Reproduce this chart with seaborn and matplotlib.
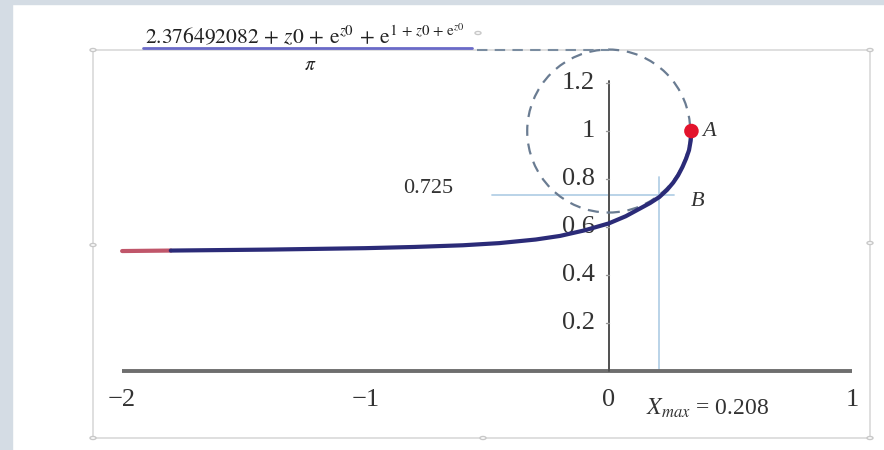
import numpy as np
import pandas as pd
import matplotlib
matplotlib.use("Agg")
import matplotlib.pyplot as plt
from matplotlib.patches import Ellipse, Rectangle, Circle
import seaborn as sns

# curve (blue part), plus the red start segment
curve_x = [-1.8, -1.6, -1.4, -1.2, -1.0, -0.8, -0.6, -0.45, -0.3, -0.2, -0.1, 0.0,
           0.07, 0.13, 0.17, 0.208, 0.24, 0.265, 0.285, 0.303, 0.318, 0.33, 0.337, 0.34]
curve_y = [0.502, 0.504, 0.506, 0.509, 0.512, 0.517, 0.524, 0.533, 0.548, 0.563, 0.586, 0.615,
           0.645, 0.678, 0.70, 0.725, 0.755, 0.785, 0.815, 0.85, 0.885, 0.92, 0.96, 1.0]
red_x = [-2.0, -1.8]
red_y = [0.5, 0.502]

point_a = (0.34, 1.0)
point_b = (0.208, 0.725)
circle_center = (0.0, 1.0)
circle_radius = 0.335

x_ticks = [-2, -1, 0, 1]
x_tick_labels = ["\u22122", "\u22121", "0", "1"]
y_ticks = [0.2, 0.4, 0.6, 0.8, 1.0, 1.2]
y_tick_labels = ["0.2", "0.4", "0.6", "0.8", "1", "1.2"]

sns.set_style("white")
plt.rcParams["font.family"] = ["Liberation Serif", "DejaVu Serif"]
plt.rcParams["mathtext.fontset"] = "stix"

fig = plt.figure(figsize=(8.84, 4.5), dpi=100)
ax = fig.add_axes([0, 0, 1, 1])
ax.set_xlim(-2.502, 1.1315)
ax.set_ylim(-0.329, 1.546)
ax.axis("off")

# page background bands
fig.patches.append(Rectangle((0, 0), 12 / 884, 1, transform=fig.transFigure,
                             color="#d4dce4", zorder=-2))
fig.patches.append(Rectangle((0, 1 - 4 / 450), 1, 4 / 450, transform=fig.transFigure,
                             color="#d4dce4", zorder=-2))
# plot frame with handles (kept under the axes content)
fig.patches.append(Rectangle((93 / 884, 1 - 438 / 450), 777 / 884, 388 / 450,
                             transform=fig.transFigure, fill=False,
                             edgecolor="#dcdcdc", lw=1.3, zorder=-1))
for hx, hy in [(93, 50), (870, 50), (93, 245), (870, 243), (93, 438), (870, 438), (483, 438), (478, 33)]:
    fig.patches.append(Circle((hx / 884, 1 - hy / 450), 3 / 884, transform=fig.transFigure,
                              facecolor="white", edgecolor="#c8c8c8", lw=1, zorder=-1))

# axes
ax.plot([-2, 1], [0, 0], color="#6e6e6e", lw=2.8, solid_capstyle="butt", zorder=3)
ax.plot([0, 0], [0, 1.21], color="#505050", lw=1.4, zorder=3)

for t, lab in zip(x_ticks, x_tick_labels):
    ax.text(t, -0.12, lab, ha="center", va="center", fontsize=19, color="#333333")
for t, lab in zip(y_ticks, y_tick_labels):
    ax.plot([-0.012, 0], [t, t], color="#999999", lw=1, zorder=3)
    ax.text(-0.056, t, lab, ha="right", va="center", fontsize=19, color="#333333")

# guide lines through B
ax.plot([point_b[0], point_b[0]], [0, 0.81], color="#b4d0e6", lw=1.3, zorder=2)
ax.plot([-0.48, 0.27], [point_b[1] + 0.01, point_b[1] + 0.01], color="#b4d0e6", lw=1.3, zorder=2)

# dashed circle and connector to the formula
ax.add_patch(Ellipse(circle_center, 2 * circle_radius, 2 * circle_radius * 243.3 / 240,
                     fill=False, edgecolor="#6a7c92", lw=1.6, linestyle=(0, (5, 3.5)), zorder=4))
ax.plot([-0.54, 0.0], [1.338, 1.338], color="#7a8ca0", lw=1.5, linestyle=(0, (5, 3.5)), zorder=4)

# curve
df_curve = pd.DataFrame({"x": curve_x, "y": curve_y})
df_red = pd.DataFrame({"x": red_x, "y": red_y})
sns.lineplot(data=df_red, x="x", y="y", sort=False, estimator=None,
             color="#c0566a", lw=3, ax=ax, zorder=5)
sns.lineplot(data=df_curve, x="x", y="y", sort=False, estimator=None,
             color="#2b2b78", lw=3, ax=ax, zorder=5)
sns.scatterplot(x=[point_a[0]], y=[point_a[1]], color="#e3132c", s=110,
                edgecolor="none", ax=ax, zorder=6)

ax.text(point_a[0] + 0.045, point_a[1], "A", style="italic", fontsize=16,
        ha="left", va="center", color="#333333")
ax.text(point_b[0] + 0.13, point_b[1] - 0.02, "B", style="italic", fontsize=16,
        ha="left", va="center", color="#333333")
ax.text(-0.74, 0.76, "0.725", fontsize=16, ha="center", va="center", color="#333333")
ax.text(0.155, -0.155, r"$X_{max}$ = 0.208", fontsize=17, ha="left", va="center", color="#333333")

# formula label (fraction)
fig.text(145 / 884, 1 - 36 / 450,
         r"$2.376492082\,+\,z0\,+\,\mathrm{e}^{z0}\,+\,\mathrm{e}^{1\,+\,z0\,+\,\mathrm{e}^{z0}}$",
         fontsize=15.5, ha="left", va="center", color="#222222")
fig.add_artist(plt.Line2D([143 / 884, 472 / 884], [1 - 48 / 450, 1 - 48 / 450],
                          transform=fig.transFigure, color="#6a6ac8", lw=2))
fig.text(310 / 884, 1 - 66 / 450, r"$\pi$", fontsize=14, ha="center", va="center", color="#222222")

fig.savefig("out.png", dpi=100)
